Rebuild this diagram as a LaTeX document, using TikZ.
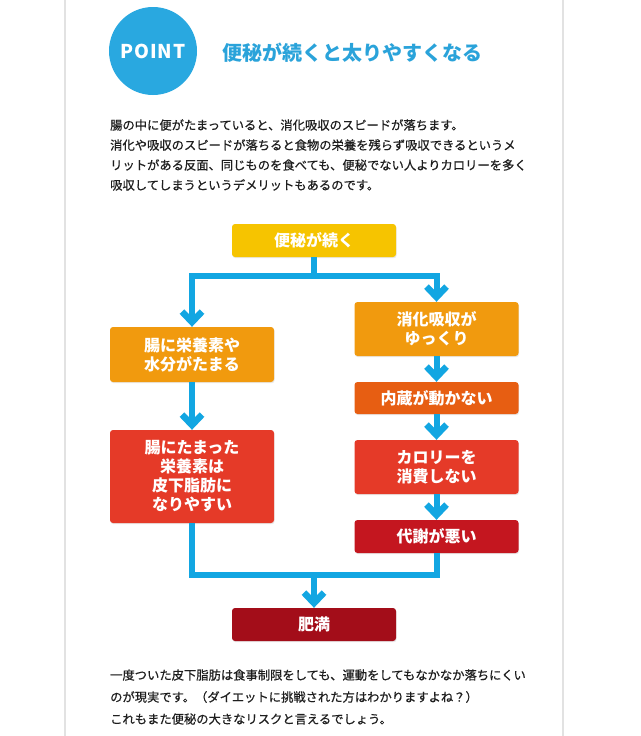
\documentclass[tikz,border=0pt]{standalone}
\usepackage{fontspec}
\setmainfont{Noto Sans CJK JP}
\newfontfamily\parafont[FakeBold=0.6]{Noto Sans CJK JP}
\usetikzlibrary{arrows.meta,shadows}
\definecolor{pblue}{HTML}{29A8E0}
\definecolor{ttl}{HTML}{2AA3DA}
\definecolor{cline}{HTML}{12A6E2}
\definecolor{cyellow}{HTML}{F6C400}
\definecolor{corange}{HTML}{F19A0E}
\definecolor{cverm}{HTML}{E75E12}
\definecolor{cred}{HTML}{E53A28}
\definecolor{cdred}{HTML}{C4161F}
\definecolor{cmaroon}{HTML}{A30D19}
\definecolor{ptext}{HTML}{1E1E1E}
\definecolor{panel}{HTML}{E2E2E2}
\tikzset{
  fbox/.style={rounded corners=3pt, minimum width=164pt, text=white, inner sep=0pt,
    font=\bfseries\fontsize{16}{19}\selectfont, align=center,
    drop shadow={opacity=0.18, shadow xshift=0.6pt, shadow yshift=-1.2pt}},
  para/.style={anchor=west, text=ptext, inner sep=0pt, font=\parafont\fontsize{12.3}{14}\selectfont},
  connline/.style={draw=cline, line width=6pt},
  arr/.style={connline, -{Straight Barb[length=10.5pt,width=20pt,line width=6.5pt]}}
}
\begin{document}
\begin{tikzpicture}[x=1pt,y=-1pt]
\useasboundingbox (0,0) rectangle (640,736);
\fill[white] (0,0) rectangle (640,736);
\draw[panel, line width=1.2pt] (65,0) -- (65,736);
\draw[panel, line width=1.2pt] (563,0) -- (563,736);
% header
\node[circle, fill=pblue, minimum size=88pt, inner sep=0pt, text=white,
  font=\bfseries\fontsize{19}{19}\selectfont\addfontfeature{LetterSpace=5}] (pt) at (153,51) {POINT};
\node[anchor=west, inner sep=0pt, text=ttl, font=\bfseries\fontsize{20}{20}\selectfont] (title) at (222,53) {便秘が続くと太りやすくなる};
% paragraph
\node[para] (p1) at (110,125) {腸の中に便がたまっていると、消化吸収のスピードが落ちます。};
\node[para] (p2) at (110,145) {消化や吸収のスピードが落ちると食物の栄養を残らず吸収できるというメ};
\node[para] (p3) at (110,165) {リットがある反面、同じものを食べても、便秘でない人よりカロリーを多く};
\node[para] (p4) at (110,185) {吸収してしまうというデメリットもあるのです。};
% boxes
\node[fbox, fill=cyellow, minimum height=33pt] (b1) at (314,240.5) {便秘が続く};
\node[fbox, fill=corange, minimum height=55pt] (b2) at (192,354.5) {腸に栄養素や\\水分がたまる};
\node[fbox, fill=corange, minimum height=54pt] (b3) at (436.5,329) {消化吸収が\\ゆっくり};
\node[fbox, fill=cverm, minimum height=32pt] (b4) at (436.5,398) {内蔵が動かない};
\node[fbox, fill=cred, minimum height=54pt] (b5) at (436.5,467) {カロリーを\\消費しない};
\node[fbox, fill=cdred, minimum height=33pt] (b6) at (436.5,536.5) {代謝が悪い};
\node[fbox, fill=cred, minimum height=93pt] (lr) at (192,476.5) {腸にたまった\\栄養素は\\皮下脂肪に\\なりやすい};
\node[fbox, fill=cmaroon, minimum height=33pt] (ob) at (314,624.5) {肥満};
% connectors
\coordinate (split) at (314,276);
\coordinate (merge) at (314,575);
\draw[connline] (b1.south) -- (split);
\draw[arr] (split) -| (b2.north);
\draw[arr] (split) -| (b3.north);
\draw[arr] (b2.south) -- (lr.north);
\draw[arr] (b3.south) -- (b4.north);
\draw[arr] (b4.south) -- (b5.north);
\draw[arr] (b5.south) -- (b6.north);
\draw[connline] (lr.south) |- (merge);
\draw[connline] (b6.south) |- (merge);
\draw[arr] (merge) -- (ob.north);
% closing paragraph
\node[para] (q1) at (110,675) {一度ついた皮下脂肪は食事制限をしても、運動をしてもなかなか落ちにくい};
\node[para] (q2) at (110,697) {のが現実です。（ダイエットに挑戦された方はわかりますよね？）};
\node[para] (q3) at (110,719) {これもまた便秘の大きなリスクと言えるでしょう。};
\end{tikzpicture}
\end{document}
